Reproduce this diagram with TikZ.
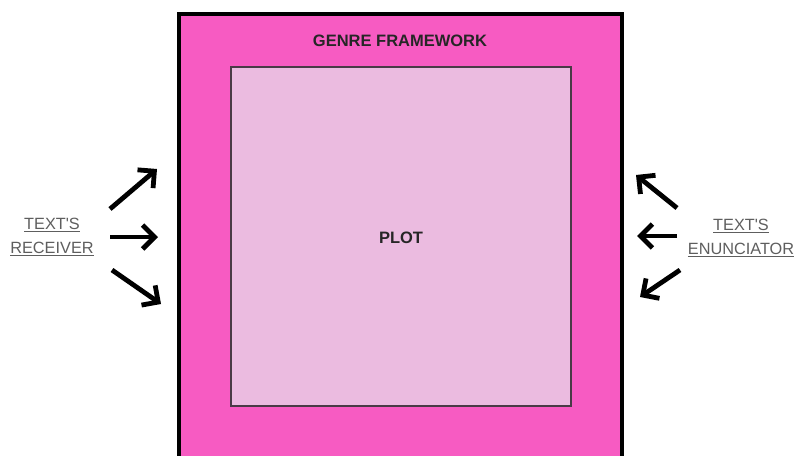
\documentclass[tikz,border=0pt]{standalone}
\usepackage{fontspec}
\setmainfont{Liberation Sans}
\usetikzlibrary{arrows.meta,positioning}
\definecolor{GenrePink}{HTML}{F75BC2}
\definecolor{PlotPink}{HTML}{EBBBE0}
\definecolor{PlotEdge}{HTML}{4A3A46}
\definecolor{LabelGray}{HTML}{5E5E5E}
\tikzset{
  frame/.style={draw=black, fill=GenrePink, line width=4pt,
                minimum width=443pt, minimum height=462pt, inner sep=0pt},
  plotbox/.style={draw=PlotEdge, fill=PlotPink, line width=1.6pt,
                  minimum width=340pt, minimum height=339pt, inner sep=0pt},
  heading/.style={font=\fontsize{16.5}{19}\selectfont\bfseries, text=black!85},
  side/.style={align=center, text=LabelGray, inner sep=0pt,
               font=\fontsize{16.3}{24}\selectfont},
  push/.style={-{Straight Barb[length=12pt,width=24pt]}, line width=4.8pt,
               draw=black}
}

\begin{document}
\begin{tikzpicture}[x=1pt, y=-1pt]
  \useasboundingbox (0,0) rectangle (800,455);

  \node[frame] (framework) at (400.5,245) {};
  \node[plotbox] (plot) at (401,236.5) {};
  \node[heading] (title) at (400,41) {GENRE FRAMEWORK};
  \node[heading] (plotname) at (401,238) {PLOT};

  \node[side] (receiver) at (52,237)
    {\underline{TEXT\textquotesingle S}\\\underline{RECEIVER}};
  \node[side] (enunciator) at (741,238)
    {\underline{TEXT\textquotesingle S}\\\underline{ENUNCIATOR}};

  \coordinate (rt1) at (110,209);  \coordinate (rh1) at (157,169);
  \coordinate (rt2) at (110,237);  \coordinate (rh2) at (158,237);
  \coordinate (rt3) at (112,270);  \coordinate (rh3) at (161,304);
  \coordinate (et1) at (677,208);  \coordinate (eh1) at (636,175);
  \coordinate (et2) at (677,236);  \coordinate (eh2) at (637,236);
  \coordinate (et3) at (680,270);  \coordinate (eh3) at (640,297);

  \foreach \i in {1,2,3} {
    \draw[push] (rt\i) -- (rh\i);
    \draw[push] (et\i) -- (eh\i);
  }
\end{tikzpicture}
\end{document}
